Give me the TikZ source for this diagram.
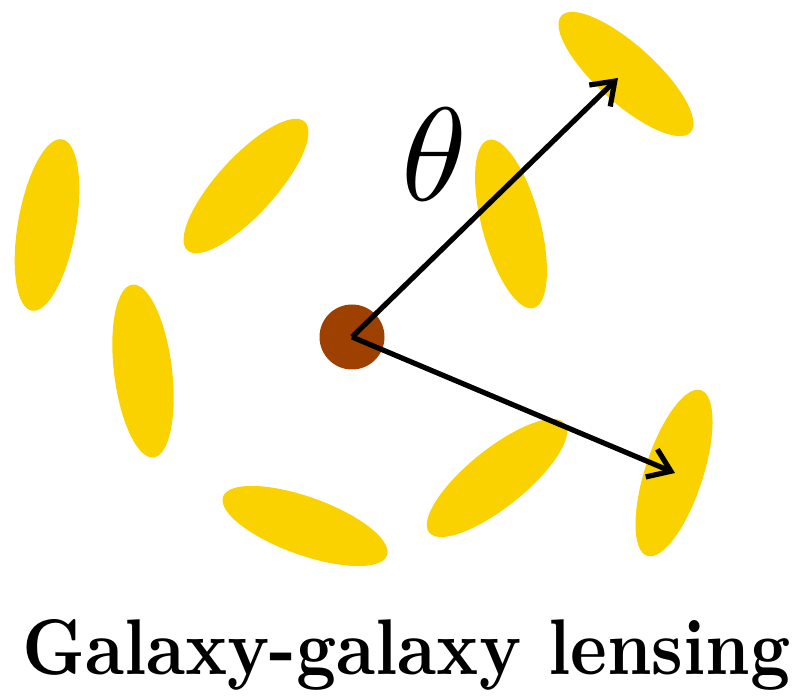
\documentclass[tikz,border=0pt]{standalone}
\usetikzlibrary{arrows.meta}
\usepackage{graphicx}
\definecolor{galyellow}{RGB}{250,210,0}
\definecolor{lensbrown}{RGB}{158,64,0}
\tikzset{
  galaxy/.style={fill=galyellow},
  vec/.style={line width=5.2pt,-{Straight Barb[length=21pt,width=30pt]}}
}
\begin{document}
\begin{tikzpicture}[x=1pt,y=1pt]
\useasboundingbox (0,0) rectangle (799,695);
% galaxies
\fill[galaxy,rotate around={80:(47,470)}] (47,470) ellipse [x radius=87,y radius=29];
\fill[galaxy,rotate around={47.6:(246,509)}] (246,509) ellipse [x radius=87,y radius=29];
\fill[galaxy,rotate around={97:(143,324)}] (143,324) ellipse [x radius=87,y radius=29];
\fill[galaxy,rotate around={-42:(626,621)}] (626,621) ellipse [x radius=87,y radius=29];
\fill[galaxy,rotate around={105:(511,471)}] (511,471) ellipse [x radius=87,y radius=29];
\fill[galaxy,rotate around={72:(674,222)}] (674,222) ellipse [x radius=87,y radius=29];
\fill[galaxy,rotate around={38.8:(497,217)}] (497,217) ellipse [x radius=87,y radius=29];
\fill[galaxy,rotate around={-19.7:(305,169)}] (305,169) ellipse [x radius=87,y radius=29];
% lens
\node[circle,fill=lensbrown,minimum size=65pt,inner sep=0pt] (lens) at (352,358) {};
\coordinate (tip1) at (618,617);
\coordinate (tip2) at (675,222);
\draw[vec] (lens.center) -- (tip1);
\draw[vec] (lens.center) -- (tip2);
% labels
\node[inner sep=0pt] (theta) at (434.5,541) {\resizebox{!}{92pt}{$\theta$}};
\node[inner sep=0pt,anchor=base west] (title) at (22,20) {\resizebox{768pt}{55pt}{\bfseries Galaxy-galaxy lensing}};
\end{tikzpicture}
\end{document}
